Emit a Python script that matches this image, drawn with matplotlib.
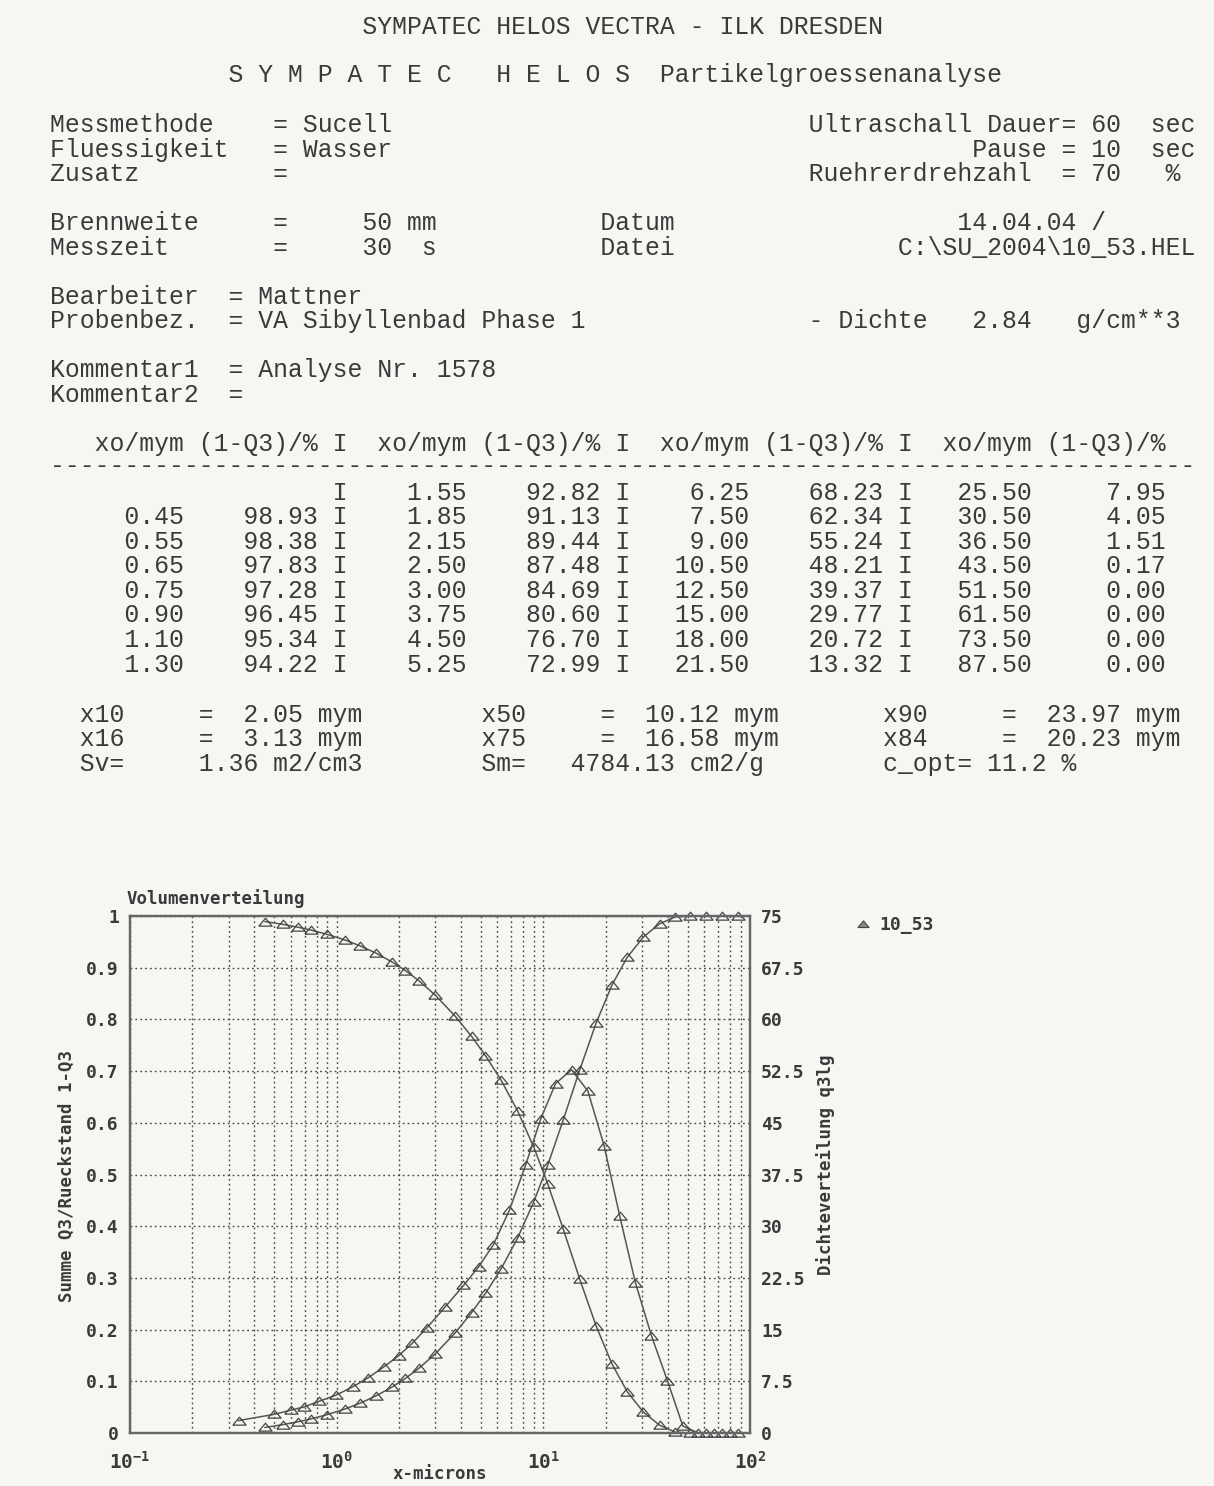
import matplotlib
matplotlib.use("Agg")
import matplotlib.pyplot as plt
from matplotlib.lines import Line2D
from matplotlib.ticker import FixedLocator, NullFormatter

# Tabelle: obere Klassengrenze xo/mym und Rueckstand (1-Q3)/%
xo = [0.45, 0.55, 0.65, 0.75, 0.90, 1.10, 1.30,
      1.55, 1.85, 2.15, 2.50, 3.00, 3.75, 4.50, 5.25,
      6.25, 7.50, 9.00, 10.50, 12.50, 15.00, 18.00, 21.50,
      25.50, 30.50, 36.50, 43.50, 51.50, 61.50, 73.50, 87.50]
rueckstand = [98.93, 98.38, 97.83, 97.28, 96.45, 95.34, 94.22,
              92.82, 91.13, 89.44, 87.48, 84.69, 80.60, 76.70, 72.99,
              68.23, 62.34, 55.24, 48.21, 39.37, 29.77, 20.72, 13.32,
              7.95, 4.05, 1.51, 0.17, 0.00, 0.00, 0.00, 0.00]

x_dichte = [0.335, 0.497, 0.598, 0.698, 0.822, 0.995, 1.196, 1.419,
            1.693, 1.994, 2.318, 2.739, 3.354, 4.108, 4.861, 5.728,
            6.847, 8.216, 9.721, 11.46, 13.69, 16.43, 19.67, 23.41,
            27.89, 33.37, 39.85, 47.33, 56.28, 67.23, 80.19]
q3lg = [1.8, 2.7, 3.3, 3.8, 4.6, 5.5, 6.7, 8.0,
        9.6, 11.2, 13.0, 15.3, 18.3, 21.4, 24.1, 27.3,
        32.3, 38.9, 45.6, 50.7, 52.7, 49.6, 41.7, 31.5,
        21.8, 14.1, 7.6, 1.0, 0.0, 0.0, 0.0]

y_links_ticks = [0, 0.1, 0.2, 0.3, 0.4, 0.5, 0.6, 0.7, 0.8, 0.9, 1]
y_links_labels = ["0", "0.1", "0.2", "0.3", "0.4", "0.5", "0.6", "0.7", "0.8", "0.9", "1"]
y_rechts_ticks = [0, 7.5, 15, 22.5, 30, 37.5, 45, 52.5, 60, 67.5, 75]
y_rechts_labels = ["0", "7.5", "15", "22.5", "30", "37.5", "45", "52.5", "60", "67.5", "75"]
x_ticks = [0.1, 1, 10, 100]
x_labels = [r"$\mathregular{10^{-1}}$", r"$\mathregular{10^{0}}$",
            r"$\mathregular{10^{1}}$", r"$\mathregular{10^{2}}$"]

kennwerte = [("x10", "2.05 mym", "x50", "10.12 mym", "x90", "23.97 mym"),
             ("x16", "3.13 mym", "x75", "16.58 mym", "x84", "20.23 mym")]

W, H = 1214, 1486
BG = "#f6f6f3"
INK = "#3a3a3a"
CW = 14.85          # Zeichenbreite der Druckerschrift in Pixel
MONO = "Liberation Mono"
FS = CW / 0.6 * 72 / 100


def fx(px):
    return px / W


def fy(py):
    return 1 - py / H


fig = plt.figure(figsize=(W / 100, H / 100), dpi=100, facecolor=BG)


def zeile(text, y, x0=50):
    fig.text(fx(x0), fy(y), text, fontsize=FS, family=MONO, color=INK,
             ha="left", va="baseline")


# Kopf
zeile(" " * 21 + "SYMPATEC HELOS VECTRA - ILK DRESDEN", 34)
zeile(" " * 12 + "S Y M P A T E C   H E L O S  Partikelgroessenanalyse", 82)
zeile("Messmethode    = Sucell".ljust(51) + "Ultraschall Dauer= 60  sec", 132)
zeile("Fluessigkeit   = Wasser".ljust(51) + "           Pause = 10  sec", 157)
zeile("Zusatz         =".ljust(51) + "Ruehrerdrehzahl  = 70   %", 181)
zeile("Brennweite     =     50 mm".ljust(37) + "Datum".ljust(24) + "14.04.04 /", 230)
zeile("Messzeit       =     30  s".ljust(37) + "Datei".ljust(20) + "C:\\SU_2004\\10_53.HEL", 255)
zeile("Bearbeiter  = Mattner", 304)
zeile("Probenbez.  = VA Sibyllenbad Phase 1".ljust(51) + "- Dichte   2.84   g/cm**3", 328)
zeile("Kommentar1  = Analyse Nr. 1578", 377)
zeile("Kommentar2  =", 402)

# Tabelle
zeile("   " + "  ".join(["xo/mym (1-Q3)/% I"] * 3) + "  xo/mym (1-Q3)/%", 451)
zeile("-" * 77, 473)
spalten = [[None] + list(range(0, 7)), list(range(7, 15)),
           list(range(15, 23)), list(range(23, 31))]
for i in range(8):
    teile = []
    for c in range(4):
        k = spalten[c][i]
        w = 9 if c == 0 else 8
        if k is None:
            teile.append(" " * (w + 9))
        else:
            teile.append(f"{xo[k]:{w}.2f}{rueckstand[k]:9.2f}")
    zeile(" I".join(teile), 500 + i * 24.5)

# Kennwerte
for i, (a, av, b, bv, c, cv) in enumerate(kennwerte):
    s = ("  " + a).ljust(10) + "=  " + av.rjust(8)
    s = s.ljust(29) + b.ljust(8) + "=  " + bv.rjust(9)
    s = s.ljust(56) + c.ljust(8) + "=  " + cv.rjust(9)
    zeile(s, 722 + i * 24.5)
s = "  Sv=".ljust(10) + "1.36 m2/cm3"
s = s.ljust(29) + "Sm=".ljust(6) + "4784.13 cm2/g"
s = s.ljust(56) + "c_opt= 11.2 %"
zeile(s, 771)

# Diagramm
ax = fig.add_axes([fx(130), fy(1433), fx(750) - fx(130), (1433 - 916) / H])
ax.set_facecolor(BG)
ax2 = ax.twinx()

tri = [(-1, -0.55), (1, -0.55), (0, 0.65), (-1, -0.55)]
line_kw = dict(color="#555555", lw=1.1, marker=tri, markersize=9.5,
               markerfacecolor="none", markeredgecolor="#444444",
               markeredgewidth=0.9, clip_on=False)

r_anteil = [r / 100 for r in rueckstand]
q3_anteil = [1 - r / 100 for r in rueckstand]
ax.plot(xo, r_anteil, **line_kw)
ax.plot(xo, q3_anteil, **line_kw)
ax2.plot(x_dichte, q3lg, **line_kw)

ax.set_xscale("log")
ax.set_xlim(0.1, 100)
ax.set_ylim(0, 1)
ax2.set_ylim(0, 75)

ax.xaxis.set_major_locator(FixedLocator(x_ticks))
ax.set_xticklabels(x_labels)
minor = [m * 10.0 ** e for e in (-1, 0, 1) for m in range(2, 10)]
ax.xaxis.set_minor_locator(FixedLocator(minor))
ax.xaxis.set_minor_formatter(NullFormatter())
ax.set_yticks(y_links_ticks)
ax.set_yticklabels(y_links_labels)
ax2.set_yticks(y_rechts_ticks)
ax2.set_yticklabels(y_rechts_labels)

grid_kw = dict(color="#4a4a4a", lw=1.0, linestyle=(0, (1.3, 2.2)))
ax.grid(True, which="both", axis="x", **grid_kw)
ax.grid(True, which="major", axis="y", **grid_kw)

tick_font = dict(family="DejaVu Sans Mono", weight="bold", size=13)
for lab in ax.get_yticklabels() + ax2.get_yticklabels():
    lab.set_fontproperties(tick_font)
    lab.set_color(INK)
for lab in ax.get_xticklabels():
    lab.set_fontproperties(dict(family="DejaVu Sans Mono", weight="bold", size=14))
    lab.set_color(INK)
ax.tick_params(axis="both", which="both", length=0)
ax.tick_params(axis="x", pad=13)
ax.tick_params(axis="y", pad=8)
ax2.tick_params(axis="y", length=0, pad=8)

for a in (ax, ax2):
    for sp in a.spines.values():
        sp.set_color("#666666")
        sp.set_linewidth(1.6)

lab_font = dict(family="DejaVu Sans Mono", weight="bold", size=12.5, color=INK)
fig.text(fx(127), fy(899), "Volumenverteilung", ha="left", va="center", **lab_font)
fig.text(fx(67), fy(1176), "Summe Q3/Rueckstand 1-Q3", rotation=90,
         ha="center", va="center", **lab_font)
fig.text(fx(826), fy(1165), "Dichteverteilung q3lg", rotation=90,
         ha="center", va="center", **lab_font)
fig.text(fx(440), fy(1474), "x-microns", ha="center", va="center", **lab_font)

proxy = Line2D([], [], ls="none", marker=tri, markersize=8,
               markerfacecolor="#888888", markeredgecolor="#444444",
               markeredgewidth=0.8)
fig.legend([proxy], ["10_53"], loc="center left",
           bbox_to_anchor=(fx(838), fy(925)), frameon=False,
           handlelength=1.0, handletextpad=0.4,
           prop=dict(family="DejaVu Sans Mono", weight="bold", size=13))
for t in fig.legends[0].get_texts():
    t.set_color(INK)

fig.savefig("out.png", dpi=100, facecolor=BG)
